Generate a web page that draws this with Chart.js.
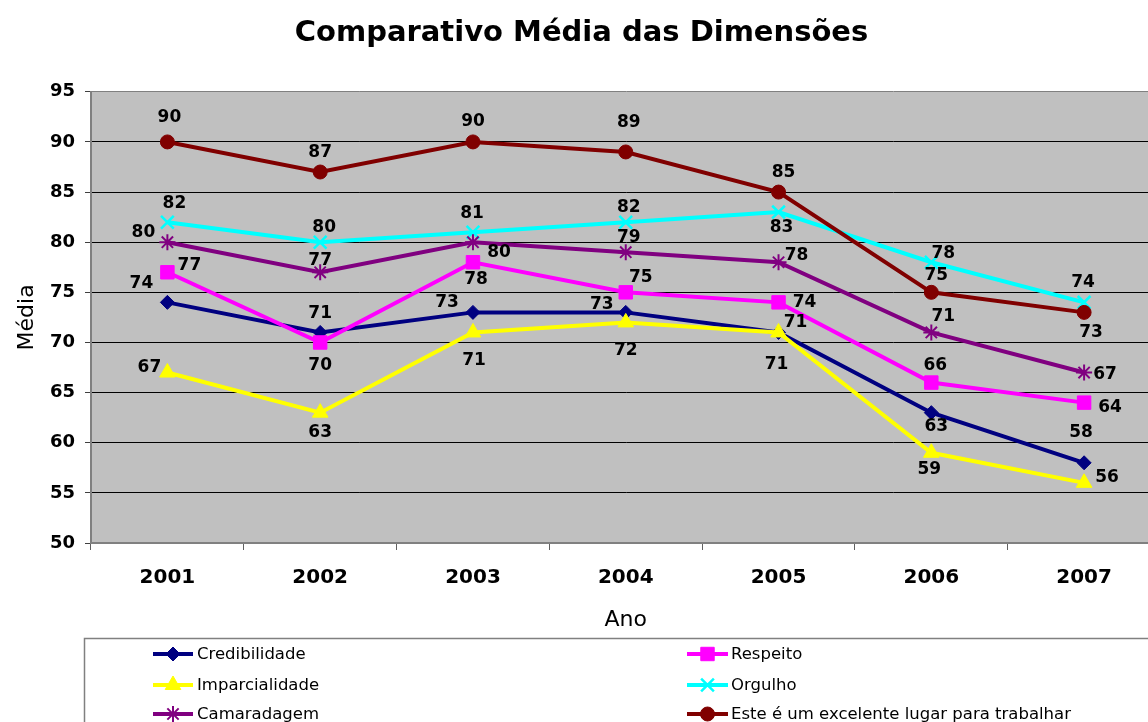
<!DOCTYPE html>
<html lang="pt">
<head>
<meta charset="utf-8">
<title>Comparativo Média das Dimensões</title>
<script src="https://cdn.jsdelivr.net/npm/chart.js@4.4.1/dist/chart.umd.min.js"></script>
<style>
  html, body { margin: 0; padding: 0; background: #ffffff; overflow: hidden; }
  canvas { display: block; }
</style>
</head>
<body>
<canvas id="grafico" width="1172" height="740"></canvas>
<script>
// ---- Dados ----
const anos = ['2001', '2002', '2003', '2004', '2005', '2006', '2007'];
const credibilidade  = [74, 71, 73, 73, 71, 63, 58];
const respeito       = [77, 70, 78, 75, 74, 66, 64];
const imparcialidade = [67, 63, 71, 72, 71, 59, 56];
const orgulho        = [82, 80, 81, 82, 83, 78, 74];
const camaradagem    = [80, 77, 80, 79, 78, 71, 67];
const excelenteLugar = [90, 87, 90, 89, 85, 75, 73];
const eixoY = { min: 50, max: 95, passo: 5 };

// ---- Aparência das séries (cor, marcador, deslocamento dos rótulos em px) ----
const series = [
  { nome: 'Credibilidade', valores: credibilidade, cor: '#000080', marcador: 'rectRot', raio: 7, borda: 1,
    rotulos: [[-26,-19],[0,-19],[-26,-10],[-24,-8],[17,-10],[5,14],[-3,-30]] },
  { nome: 'Respeito', valores: respeito, cor: '#FF00FF', marcador: 'rect', raio: 9.5, borda: 1,
    rotulos: [[22,-7],[0,23],[3,17],[15,-15],[26,0],[4,-17],[26,5]] },
  { nome: 'Imparcialidade', valores: imparcialidade, cor: '#FFFF00', marcador: 'triangle', raio: 9, borda: 1,
    rotulos: [[-18,-5],[0,20],[1,28],[0,28],[-2,32],[-2,17],[23,-5]] },
  { nome: 'Orgulho', valores: orgulho, cor: '#00FFFF', marcador: 'crossRot', raio: 9, borda: 2.5,
    rotulos: [[7,-19],[4,-15],[-1,-19],[3,-15],[3,15],[12,-9],[-1,-20]] },
  { nome: 'Camaradagem', valores: camaradagem, cor: '#800080', marcador: 'star', raio: 8, borda: 2,
    rotulos: [[-24,-10],[0,-12],[26,10],[3,-15],[18,-7],[12,-16],[21,2]] },
  { nome: 'Este é um excelente lugar para trabalhar', valores: excelenteLugar, cor: '#800000', marcador: 'circle', raio: 7, borda: 1,
    rotulos: [[2,-24],[0,-19],[0,-20],[3,-29],[5,-19],[5,-17],[7,20]] }
];

Chart.defaults.font.family = "'DejaVu Sans', Verdana, sans-serif";
Chart.defaults.color = '#000000';

// Fundo cinza da área de plotagem
const fundoPlotagem = {
  id: 'fundoPlotagem',
  beforeDraw(chart) {
    const { ctx, chartArea: a } = chart;
    ctx.save();
    ctx.fillStyle = '#C0C0C0';
    ctx.fillRect(a.left, a.top, a.right - a.left, a.bottom - a.top);
    ctx.restore();
  }
};

// Rótulos de valor junto a cada ponto
const rotulosValores = {
  id: 'rotulosValores',
  afterDatasetsDraw(chart) {
    const ctx = chart.ctx;
    ctx.save();
    ctx.font = 'bold 17px "DejaVu Sans", Verdana, sans-serif';
    ctx.fillStyle = '#000000';
    ctx.textAlign = 'center';
    ctx.textBaseline = 'middle';
    chart.data.datasets.forEach((ds, di) => {
      const meta = chart.getDatasetMeta(di);
      const desloc = series[di].rotulos;
      meta.data.forEach((pt, i) => {
        const [dx, dy] = desloc[i];
        ctx.fillText(String(ds.data[i]), pt.x + dx, pt.y + dy);
      });
    });
    ctx.restore();
  }
};

// Legenda em duas colunas dentro de uma caixa
const legendaCaixa = {
  id: 'legendaCaixa',
  afterDraw(chart) {
    const ctx = chart.ctx;
    const caixa = { x: 84.5, y: 638.5 };
    ctx.save();
    ctx.fillStyle = '#ffffff';
    ctx.strokeStyle = '#808080';
    ctx.lineWidth = 1.5;
    ctx.fillRect(caixa.x, caixa.y, chart.width, 200);
    ctx.strokeRect(caixa.x, caixa.y, chart.width, 200);
    const colunas = [{ l0: 153, l1: 193, txt: 197 }, { l0: 687, l1: 728, txt: 731 }];
    const linhas = [654, 685, 714];
    ctx.font = '16.5px "DejaVu Sans", Verdana, sans-serif';
    ctx.textBaseline = 'middle';
    ctx.textAlign = 'left';
    chart.data.datasets.forEach((ds, i) => {
      const c = colunas[i % 2];
      const y = linhas[Math.floor(i / 2)];
      ctx.strokeStyle = ds.borderColor;
      ctx.lineWidth = 4;
      ctx.beginPath();
      ctx.moveTo(c.l0, y);
      ctx.lineTo(c.l1, y);
      ctx.stroke();
      ctx.fillStyle = ds.pointBackgroundColor;
      ctx.strokeStyle = ds.pointBorderColor;
      ctx.lineWidth = ds.pointBorderWidth;
      Chart.helpers.drawPoint(ctx, {
        pointStyle: ds.pointStyle, radius: ds.pointRadius, rotation: 0, borderWidth: ds.pointBorderWidth
      }, (c.l0 + c.l1) / 2, y);
      ctx.fillStyle = '#000000';
      ctx.fillText(ds.label, c.txt, y + 1);
    });
    ctx.restore();
  }
};

const conjuntos = series.map((s, i) => ({
  label: s.nome,
  data: s.valores,
  borderColor: s.cor,
  backgroundColor: s.cor,
  borderWidth: 4,
  pointStyle: s.marcador,
  pointRadius: s.raio,
  pointHoverRadius: s.raio,
  pointBackgroundColor: s.cor,
  pointBorderColor: s.cor,
  pointBorderWidth: s.borda,
  tension: 0,
  order: series.length - 1 - i
}));

new Chart(document.getElementById('grafico'), {
  type: 'line',
  data: { labels: anos, datasets: conjuntos },
  plugins: [fundoPlotagem, rotulosValores, legendaCaixa],
  options: {
    responsive: false,
    animation: false,
    layout: { padding: { left: 0, right: 9, top: 0, bottom: 102 } },
    plugins: {
      legend: { display: false },
      tooltip: { enabled: false },
      title: {
        display: true,
        text: 'Comparativo Média das Dimensões',
        font: { size: 29, weight: 'bold' },
        color: '#000000',
        padding: { top: 16, bottom: 41 }
      }
    },
    scales: {
      x: {
        offset: true,
        afterFit(scale) { scale.height = 95; },
        grid: { offset: true, drawOnChartArea: false, tickLength: 7, color: '#808080', tickColor: '#606060' },
        border: { color: '#808080', width: 2 },
        ticks: { font: { size: 20, weight: 'bold' }, color: '#000000', padding: 16, maxRotation: 0 },
        title: { display: true, text: 'Ano', font: { size: 22 }, color: '#000000', padding: { top: 0, bottom: 5 } }
      },
      y: {
        min: eixoY.min,
        max: eixoY.max,
        afterFit(scale) { scale.width = 91; },
        grid: {
          color: (c) => (c.tick && (c.tick.value === eixoY.max || c.tick.value === eixoY.min)) ? '#808080' : '#000000',
          lineWidth: 1,
          tickLength: 6,
          tickColor: '#404040'
        },
        border: { color: '#808080', width: 2 },
        ticks: { stepSize: eixoY.passo, font: { size: 18, weight: 'bold' }, color: '#000000', padding: 10 },
        title: { display: true, text: 'Média', font: { size: 22 }, color: '#000000', padding: { top: 14, bottom: 0 } }
      }
    }
  }
});
</script>
</body>
</html>
